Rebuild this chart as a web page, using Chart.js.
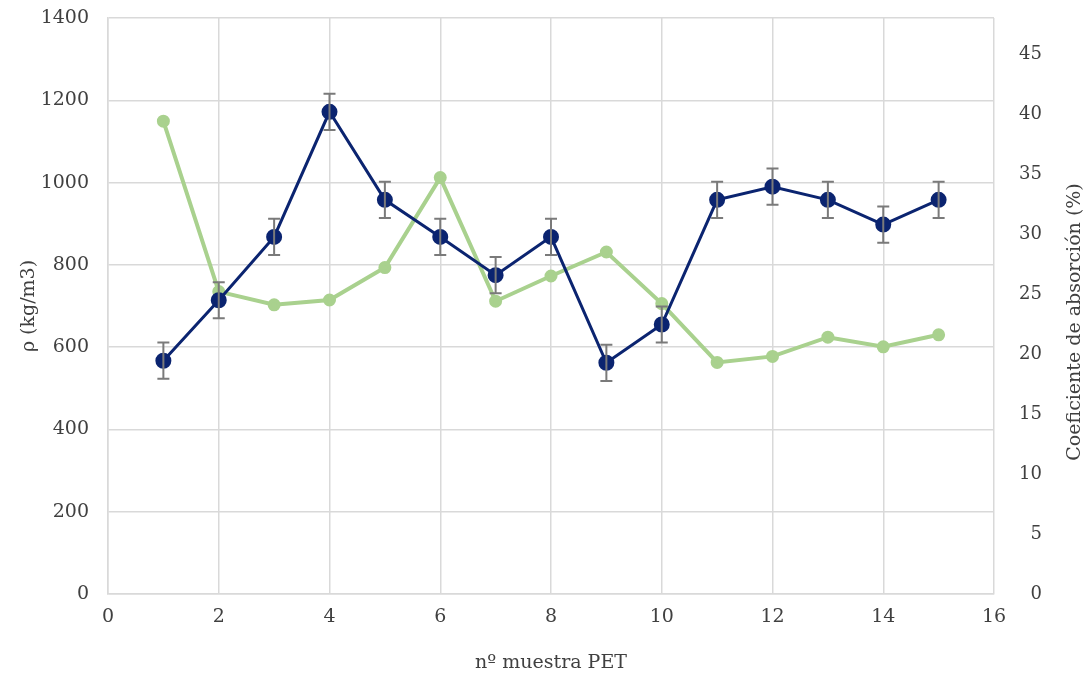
<!DOCTYPE html>
<html>
<head>
<meta charset="utf-8">
<script src="https://cdn.jsdelivr.net/npm/chart.js@4"></script>
<style>
  html, body { margin: 0; padding: 0; background: #fff; }
  #wrap { width: 1086px; height: 687px; }
</style>
</head>
<body>
<div id="wrap"><canvas id="chart" width="1086" height="687"></canvas></div>
<script>
// Data
const muestras = [1, 2, 3, 4, 5, 6, 7, 8, 9, 10, 11, 12, 13, 14, 15];
const densidad = [567, 714, 868, 1172, 958, 868, 775, 868, 562, 655, 958, 990, 958, 898, 958];
const errorDensidad = [44, 44, 44, 44, 44, 44, 44, 44, 44, 44, 44, 44, 44, 44, 44];
const absorcion = [39.4, 25.2, 24.1, 24.5, 27.2, 34.7, 24.4, 26.5, 28.5, 24.2, 19.3, 19.8, 21.4, 20.6, 21.6];

const FONT = 'DejaVu Serif';
const FSIZE = 19;
const TEXT = '#404040';
const GRID = '#d9d9d9';

// Error bars on the density series
const errorBars = {
    id: 'errorBars',
    afterDatasetsDraw(chart) {
        const ctx = chart.ctx;
        const x = chart.scales.x, y = chart.scales.y;
        ctx.save();
        ctx.strokeStyle = '#7a7a7a';
        ctx.lineWidth = 2;
        muestras.forEach((m, i) => {
            const px = x.getPixelForValue(m);
            const top = y.getPixelForValue(densidad[i] + errorDensidad[i]);
            const bot = y.getPixelForValue(densidad[i] - errorDensidad[i]);
            ctx.beginPath();
            ctx.moveTo(px, top); ctx.lineTo(px, bot);
            ctx.moveTo(px - 6, top); ctx.lineTo(px + 6, top);
            ctx.moveTo(px - 6, bot); ctx.lineTo(px + 6, bot);
            ctx.stroke();
        });
        ctx.restore();
    }
};

// Right axis title reads bottom-to-top
const rightTitle = {
    id: 'rightTitle',
    afterDraw(chart) {
        const ctx = chart.ctx;
        ctx.save();
        ctx.translate(1075, 322);
        ctx.rotate(-Math.PI / 2);
        ctx.font = FSIZE + 'px "' + FONT + '"';
        ctx.fillStyle = TEXT;
        ctx.textAlign = 'center';
        ctx.textBaseline = 'middle';
        ctx.fillText('Coeficiente de absorción (%)', 0, 0);
        ctx.restore();
    }
};

new Chart(document.getElementById('chart'), {
    type: 'line',
    data: {
        datasets: [
            {
                label: 'ρ',
                data: muestras.map((m, i) => ({ x: m, y: densidad[i] })),
                yAxisID: 'y',
                borderColor: '#0b2470',
                backgroundColor: '#0b2470',
                borderWidth: 3,
                pointRadius: 6.5,
                pointHoverRadius: 6.5,
                tension: 0
            },
            {
                label: 'Absorción',
                data: muestras.map((m, i) => ({ x: m, y: absorcion[i] })),
                yAxisID: 'y2',
                borderColor: '#a9d18e',
                backgroundColor: '#a9d18e',
                borderWidth: 4,
                pointRadius: 4.5,
                pointHoverRadius: 4.5,
                tension: 0
            }
        ]
    },
    options: {
        responsive: false,
        animation: false,
        layout: { padding: { top: 18, left: 0, right: 44, bottom: 0 } },
        plugins: {
            legend: { display: false },
            tooltip: { enabled: false }
        },
        scales: {
            x: {
                type: 'linear',
                min: 0, max: 16,
                ticks: { stepSize: 2, padding: 12, color: TEXT, font: { family: FONT, size: FSIZE } },
                grid: { color: GRID, lineWidth: 1.5, drawTicks: false },
                border: { color: GRID, width: 1.5 },
                title: { display: true, text: 'nº muestra PET', color: TEXT,
                         font: { family: FONT, size: FSIZE }, padding: { top: 0, bottom: 13 } },
                afterFit(s) { s.height = 93; }
            },
            y: {
                position: 'left',
                min: 0, max: 1400,
                ticks: { stepSize: 200, padding: 19, color: TEXT, font: { family: FONT, size: FSIZE },
                         callback: v => String(v) },
                grid: { color: GRID, lineWidth: 1.5, drawTicks: false },
                border: { color: GRID, width: 1.5 },
                title: { display: true, text: 'ρ (kg/m3)', color: TEXT,
                         font: { family: FONT, size: FSIZE }, padding: { top: 18, bottom: 0 } },
                afterFit(s) { s.width = 108; s.paddingTop = 0; s.paddingBottom = 0; }
            },
            y2: {
                position: 'right',
                min: 0, max: 48,
                ticks: { stepSize: 5, padding: 26, crossAlign: 'far', color: TEXT,
                         font: { family: FONT, size: FSIZE - 1 } },
                afterBuildTicks(s) { s.ticks = s.ticks.filter(t => t.value % 5 === 0); },
                grid: { display: false, drawTicks: false },
                border: { display: false },
                afterFit(s) { s.width = 48; s.paddingTop = 0; s.paddingBottom = 0; }
            }
        }
    },
    plugins: [errorBars, rightTitle]
});
</script>
</body>
</html>
